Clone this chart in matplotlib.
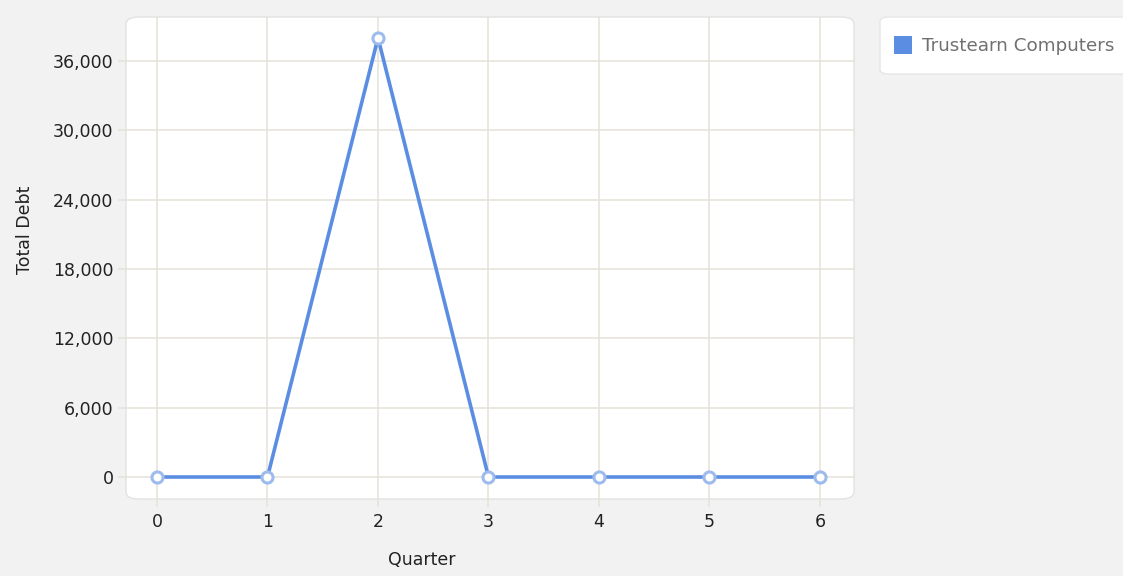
import matplotlib
matplotlib.use("Agg")
import matplotlib.pyplot as plt
from matplotlib.patches import FancyBboxPatch, Rectangle
from matplotlib.ticker import FuncFormatter

quarters = [0, 1, 2, 3, 4, 5, 6]
total_debt = [0, 0, 38000, 0, 0, 0, 0]
series_name = "Trustearn Computers"
y_ticks = [0, 6000, 12000, 18000, 24000, 30000, 36000]

plt.rcParams["font.family"] = ["DejaVu Sans"]

W, H = 1123, 576
fig = plt.figure(figsize=(W / 100, H / 100), dpi=100)
fig.patch.set_facecolor("#f2f2f2")

def fx(px):
    return px / W

def fy(py):
    return 1 - py / H

FS = 12.5

# plot panel with rounded corners
left, right, top, bottom = 126, 854, 17, 499
panel = FancyBboxPatch((fx(left), fy(bottom)), fx(right - left), fy(top) - fy(bottom),
                       boxstyle="round,pad=0,rounding_size=0.012",
                       transform=fig.transFigure, facecolor="white",
                       edgecolor="#e2e2e0", linewidth=1.0, zorder=-5)
fig.patches.append(panel)

ax = fig.add_axes([fx(left), fy(bottom), fx(right - left), fy(top) - fy(bottom)])
ax.set_zorder(2)
ax.set_facecolor("none")
for s in ax.spines.values():
    s.set_visible(False)

grid_c = "#e4e2d9"
ax.set_xlim(-0.2805, 6.3077)
ax.set_ylim(-1904, 39808)
ax.set_xticks(quarters)
ax.set_yticks(y_ticks)
ax.yaxis.set_major_formatter(FuncFormatter(lambda v, p: f"{int(v):,}"))
ax.grid(True, color=grid_c, linewidth=1.1, zorder=1)
ax.tick_params(axis="both", colors=grid_c, length=6, width=1.1,
               labelcolor="#222222", labelsize=FS)
ax.tick_params(axis="x", pad=4)
ax.tick_params(axis="y", pad=3)

ax.plot(quarters, total_debt, color="#5b8ee2", linewidth=2.6, zorder=3,
        marker="o", markersize=8, markerfacecolor="white",
        markeredgecolor="#9dbbec", markeredgewidth=2.2, clip_on=False)

fig.text(fx(422), fy(560), "Quarter", ha="center", va="center",
         fontsize=FS, color="#222222")
fig.text(fx(25), fy(230), "Total Debt", ha="center", va="center",
         rotation=90, fontsize=FS, color="#222222")

# legend box
leg = FancyBboxPatch((fx(880), fy(74)), fx(1140 - 880), fy(17) - fy(74),
                     boxstyle="round,pad=0,rounding_size=0.008",
                     transform=fig.transFigure, facecolor="white",
                     edgecolor="#e6e6e6", linewidth=1.0, zorder=-5)
fig.patches.append(leg)
fig.patches.append(Rectangle((fx(894), fy(54)), fx(18), fy(36) - fy(54),
                             transform=fig.transFigure, facecolor="#5b8ee2",
                             edgecolor="none"))
fig.text(fx(922), fy(46), series_name, ha="left", va="center",
         fontsize=13.2, color="#707070")

fig.savefig("out.png", dpi=100, facecolor=fig.get_facecolor())
